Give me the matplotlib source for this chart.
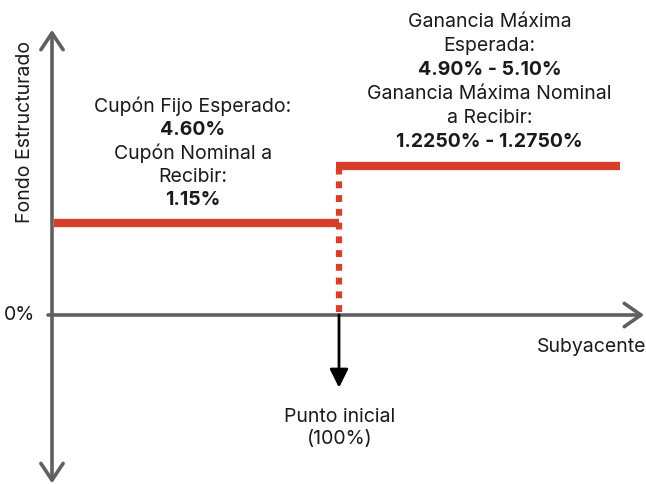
import matplotlib
matplotlib.use("Agg")
import matplotlib.pyplot as plt

# ---- data (schematic payoff) ----
underlying_x = [0, 100, 198]          # % of initial level: start, strike, end
payoff_levels = [1.0, 1.62]           # schematic levels: fixed coupon, max gain
strike = 100

left_lines = ["Cupón Fijo Esperado:", "4.60%", "Cupón Nominal a", "Recibir:", "1.15%"]
left_bold = [False, True, False, False, True]
right_lines = ["Ganancia Máxima", "Esperada:", "4.90% - 5.10%",
               "Ganancia Máxima Nominal", "a Recibir:", "1.2250% - 1.2750%"]
right_bold = [False, False, True, False, False, True]

y_label = "Fondo Estructurado"
x_label = "Subyacente"
zero_label = "0%"
start_label = "Punto inicial\n(100%)"

plt.rcParams['font.family'] = ['Inter', 'DejaVu Sans']

RED = "#d6402b"
GRAY = "#606060"
TXT = "#1a1a1a"
FS = 14

fig = plt.figure(figsize=(6.46, 4.84), dpi=100)
ax = fig.add_axes([0, 0, 1, 1])
ax.set_xlim(-18.12, 206.97)
ax.set_ylim(-1.837, 3.424)
ax.axis("off")

# axes arrows
ax.annotate("", xy=(underlying_x[0], 3.10), xytext=(underlying_x[0], -1.83),
            arrowprops=dict(arrowstyle="<->,head_length=0.6,head_width=0.4",
                            color=GRAY, lw=2.6, mutation_scale=20,
                            shrinkA=0, shrinkB=0))
ax.annotate("", xy=(206.3, 0), xytext=(-1.4, 0),
            arrowprops=dict(arrowstyle="->,head_length=0.6,head_width=0.42",
                            color=GRAY, lw=2.6, mutation_scale=20,
                            shrinkA=0, shrinkB=0))

# payoff lines
ax.plot([underlying_x[0] + 0.7, underlying_x[1]], [payoff_levels[0]] * 2,
        color=RED, lw=6, solid_capstyle="butt", zorder=3)
ax.plot([underlying_x[1] - 1.0, underlying_x[2]], [payoff_levels[1]] * 2,
        color=RED, lw=6, solid_capstyle="butt", zorder=3)
ax.plot([strike, strike], [0.03, payoff_levels[1]], color=RED, lw=4.5,
        linestyle=(0, (1.1, 1.1)), dash_capstyle="butt", zorder=2)

# strike arrow
ax.annotate("", xy=(strike, -0.79), xytext=(strike, 0),
            arrowprops=dict(arrowstyle="-|>,head_length=0.8,head_width=0.4",
                            color="black", lw=2, mutation_scale=14,
                            shrinkA=0, shrinkB=0))

# labels
ax.annotate(zero_label, xy=(underlying_x[0], 0), xytext=(-17, 0),
            textcoords="offset pixels", ha="right", va="center",
            fontsize=FS, color=TXT)
ax.annotate(x_label, xy=(206.3, 0), xytext=(2, -32),
            textcoords="offset pixels", ha="right", va="center",
            fontsize=FS, color=TXT)
ax.annotate(start_label, xy=(strike, 0), xytext=(1, -113),
            textcoords="offset pixels", ha="center", va="center",
            fontsize=FS, color=TXT, linespacing=1.3)
ax.annotate(y_label, xy=(underlying_x[0], 0), xytext=(-27, 183),
            textcoords="offset pixels", ha="center", va="center",
            rotation=90, fontsize=FS, color=TXT)

# annotation blocks
def block(lines, bold, x, y, first_off, step):
    n = len(lines)
    for i, (t, b) in enumerate(zip(lines, bold)):
        off = first_off + step * (n - 1 - i)
        ax.annotate(t, xy=(x, y), xytext=(0, off), textcoords="offset pixels",
                    ha="center", va="center", fontsize=FS, color=TXT,
                    fontweight="bold" if b else "normal")

block(left_lines, left_bold, 49.1, payoff_levels[0], 23, 23.5)
block(right_lines, right_bold, 152.4, payoff_levels[1], 24, 24)

fig.savefig("out.png", dpi=100, facecolor="white")
